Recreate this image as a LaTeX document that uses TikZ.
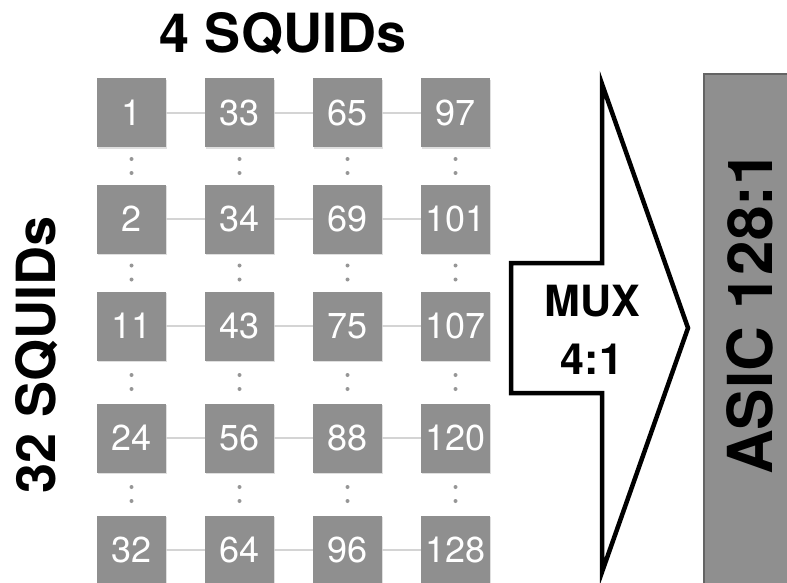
\documentclass[tikz,border=0pt]{standalone}
\usepackage{fontspec}
\setmainfont{TeX Gyre Heros}
\usetikzlibrary{calc,shadows}

\definecolor{boxgray}{RGB}{143,143,143}
\definecolor{linkgray}{RGB}{212,212,212}
\definecolor{dotgray}{RGB}{150,150,150}
\definecolor{asicedge}{RGB}{100,100,100}

\begin{document}
\begin{tikzpicture}[x=1pt,y=-1pt,
    squid/.style={fill=boxgray, minimum size=69pt, inner sep=0pt, text=white,
        font=\fontsize{36}{40}\selectfont,
        drop shadow={opacity=0.25, shadow xshift=1pt, shadow yshift=-1.5pt}},
    link/.style={draw=linkgray, line width=1.2pt},
    title/.style={font=\bfseries\fontsize{54}{60}\selectfont}]

\useasboundingbox (0,0) rectangle (787,583);

% SQUID array
\foreach \r/\yy/\na/\nb/\nc/\nd in {1/113/1/33/65/97, 2/219/2/34/69/101,
    3/326/11/43/75/107, 4/438/24/56/88/120, 5/550/32/64/96/128}
{
    \node[squid] (q\r1) at (131.5,\yy) {\na};
    \node[squid] (q\r2) at (239.5,\yy) {\nb};
    \node[squid] (q\r3) at (347.5,\yy) {\nc};
    \node[squid] (q\r4) at (455.5,\yy) {\nd};
    \draw[link] (q\r1) -- (q\r2);
    \draw[link] (q\r2) -- (q\r3);
    \draw[link] (q\r3) -- (q\r4);
}

% Dots between rows
\foreach \r [evaluate=\r as \s using int(\r+1)] in {1,...,4}
    \foreach \c in {1,...,4}
    {
        \coordinate (m) at ($(q\r\c.south)!0.5!(q\s\c.north)$);
        \fill[dotgray] ($(m)+(0,-7)$) circle (2pt);
        \fill[dotgray] ($(m)+(0,7)$) circle (2pt);
    }

% Titles
\node[title] (cols) at (283,34) {4 SQUIDs};
\node[title, rotate=90] (rows) at (37,355) {32 SQUIDs};

% MUX arrow
\coordinate (mt) at (602,84);
\coordinate (mtip) at (688,328);
\coordinate (mb) at (602,572);
\draw[line width=4.5pt, line join=miter, fill=white]
    (602,263) -- (mt) -- (mtip) -- (mb) -- (602,393) -- (511,393) -- (511,263) -- cycle;
\node[align=center, font=\bfseries\fontsize{43}{58}\selectfont] (mux) at (592,330) {MUX\\4:1};

% ASIC
\fill[boxgray, draw=asicedge, line width=2pt] (704,74) rectangle (800,600);
\node[rotate=90, font=\bfseries\fontsize{62}{66}\selectfont] (asic) at (750,313) {ASIC 128:1};

\end{tikzpicture}
\end{document}
